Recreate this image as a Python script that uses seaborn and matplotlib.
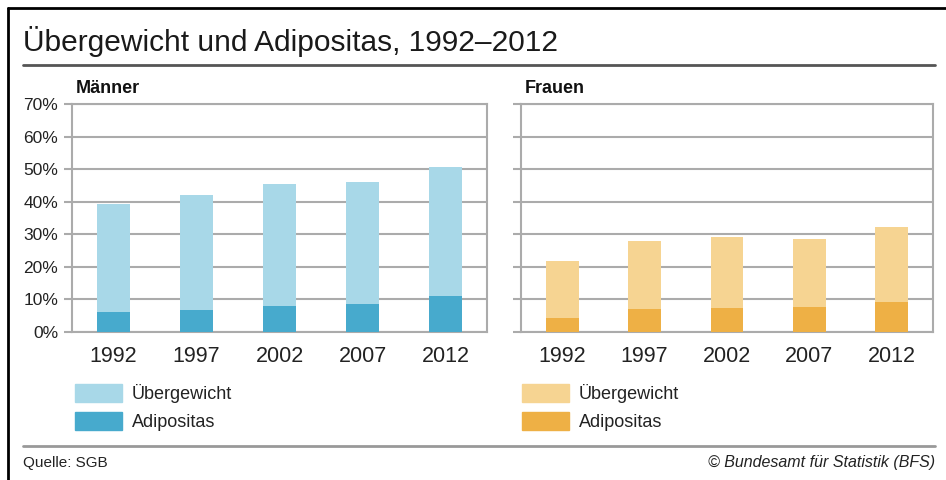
import matplotlib
matplotlib.use("Agg")
import matplotlib.pyplot as plt
import matplotlib.patches as mpatches
from matplotlib.lines import Line2D
import seaborn as sns

YEARS = ["1992", "1997", "2002", "2007", "2012"]

# share of population (%)
MEN_OVERWEIGHT = [39.2, 42.1, 45.4, 46.2, 50.6]
MEN_OBESE = [6.0, 6.7, 8.1, 8.7, 11.1]
WOMEN_OVERWEIGHT = [21.9, 28.0, 29.3, 28.5, 32.1]
WOMEN_OBESE = [4.3, 7.0, 7.5, 7.8, 9.1]

Y_TICKS = [0, 10, 20, 30, 40, 50, 60, 70]

BLUE_LIGHT, BLUE_DARK = "#a8d8e8", "#47aacd"
ORANGE_LIGHT, ORANGE_DARK = "#f6d492", "#eeb045"
GRID = "#ababab"
TEXT = "#222222"

FONT = ["Liberation Sans", "DejaVu Sans"]

sns.set_theme(style="white")
plt.rcParams["font.family"] = FONT

W, H = 946, 480
fig = plt.figure(figsize=(W / 100, H / 100), dpi=100)


def fx(px):
    return px / W


def fy(py):
    return 1 - py / H


def draw_panel(rect, overweight, obese, light, dark, label, show_yticks):
    ax = fig.add_axes(rect)
    sns.barplot(x=YEARS, y=overweight, color=light, saturation=1,
                width=0.4, linewidth=0, ax=ax, zorder=3)
    sns.barplot(x=YEARS, y=obese, color=dark, saturation=1,
                width=0.4, linewidth=0, ax=ax, zorder=4)
    ax.set_xlim(-0.5, 4.5)
    ax.set_ylim(0, 70)
    ax.set_yticks(Y_TICKS)
    ax.grid(axis="y", color=GRID, linewidth=1.5, zorder=0)
    ax.set_axisbelow(True)
    for s in ax.spines.values():
        s.set_color(GRID)
        s.set_linewidth(1.5)
    ax.tick_params(axis="y", length=6, width=1.5, color=GRID, left=True,
                   labelsize=12.5, labelcolor=TEXT, pad=4)
    ax.tick_params(axis="x", length=0, labelsize=15.5, labelcolor=TEXT,
                   pad=10)
    if show_yticks:
        ax.set_yticklabels([f"{t}%" for t in Y_TICKS])
    else:
        ax.set_yticklabels([])
    ax.set_xlabel("")
    ax.set_ylabel("")
    ax.text(0.008, 1.03, label, transform=ax.transAxes, ha="left",
            va="bottom", fontsize=13, fontweight="bold", color="#111111")

    handles = [mpatches.Patch(color=light, label="Übergewicht"),
               mpatches.Patch(color=dark, label="Adipositas")]
    return ax, handles


ax_m, h_m = draw_panel([fx(72), fy(332), fx(415), 228 / H],
                       MEN_OVERWEIGHT, MEN_OBESE, BLUE_LIGHT, BLUE_DARK,
                       "Männer", True)
ax_f, h_f = draw_panel([fx(521), fy(332), fx(412), 228 / H],
                       WOMEN_OVERWEIGHT, WOMEN_OBESE, ORANGE_LIGHT,
                       ORANGE_DARK, "Frauen", False)

for handles, x0 in [(h_m, 75), (h_f, 522)]:
    leg = fig.legend(handles=handles, loc="upper left",
                     bbox_to_anchor=(fx(x0), fy(384)), frameon=False,
                     borderpad=0, borderaxespad=0, handlelength=2.6,
                     handleheight=1.15, labelspacing=0.5, handletextpad=0.55,
                     prop={"size": 13})
    for t in leg.get_texts():
        t.set_color(TEXT)

# title, rules, footer
fig.text(fx(23), fy(51), "Übergewicht und Adipositas, 1992–2012",
         fontsize=21.5, color="#1a1a1a", va="baseline")
fig.add_artist(Line2D([fx(23), fx(935)], [fy(65), fy(65)],
                      color="#555555", linewidth=2))
fig.add_artist(Line2D([fx(23), fx(935)], [fy(446), fy(446)],
                      color="#999999", linewidth=2))
fig.text(fx(23), fy(463), "Quelle: SGB", fontsize=11, color=TEXT,
         va="center")
fig.text(fx(935), fy(463), "© Bundesamt für Statistik (BFS)", fontsize=11.5,
         style="italic", color=TEXT, va="center", ha="right")

# frame of the original graphic (left and top edges)
fig.add_artist(Line2D([fx(8), fx(8)], [0, fy(8)], color="black", linewidth=2))
fig.add_artist(Line2D([fx(8), 1], [fy(8), fy(8)], color="black", linewidth=2))

fig.savefig("out.png", dpi=100)
